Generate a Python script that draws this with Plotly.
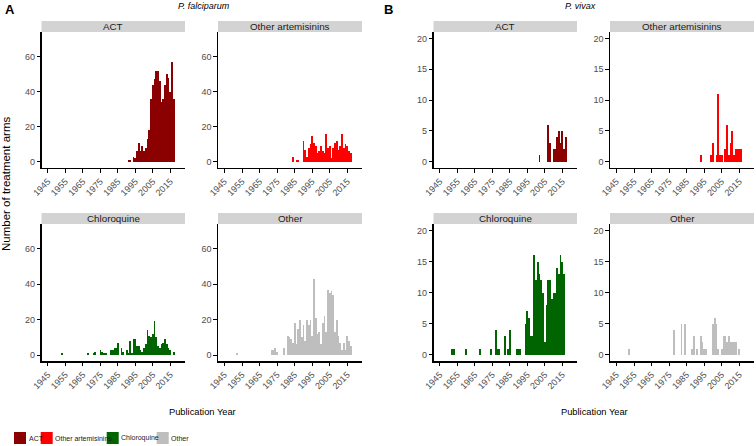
import plotly.graph_objects as go

# ---------------- data (publication year -> number of treatment arms) ----------------
pf_act_years = [1991, 1992, 1994, 1995, 1996, 1997, 1998, 1999, 2000, 2001, 2002, 2003, 2004,
                2005, 2006, 2007, 2008, 2009, 2010, 2011, 2012, 2013, 2014, 2015, 2016, 2017]
pf_act_counts = [1, 1, 3, 2, 6, 11, 6, 9, 6, 8, 13, 18, 36,
                 44, 47, 52, 52, 46, 34, 36, 44, 50, 48, 40, 57, 36]

pf_oart_years = [1984, 1986, 1987, 1990, 1991, 1992, 1993, 1994, 1995, 1996, 1997, 1998, 1999,
                 2000, 2001, 2002, 2003, 2004, 2005, 2006, 2007, 2008, 2009, 2010, 2011, 2012,
                 2013, 2014, 2015, 2016, 2017]
pf_oart_counts = [3, 1, 1, 12, 7, 3, 8, 10, 15, 11, 9, 5, 6,
                  9, 6, 5, 16, 8, 9, 2, 8, 11, 12, 7, 9, 16,
                  8, 10, 9, 6, 5]

pf_cq_years = [1953, 1968, 1971, 1972, 1975, 1976, 1977, 1978, 1981, 1982, 1983, 1984, 1985,
               1987, 1988, 1990, 1991, 1992, 1993, 1994, 1995, 1996, 1997, 1998, 1999, 2000,
               2001, 2002, 2003, 2004, 2005, 2006, 2007, 2008, 2009, 2010, 2011, 2012, 2013,
               2014, 2015, 2017]
pf_cq_counts = [1, 1, 1, 2, 3, 2, 1, 1, 3, 3, 4, 4, 7,
                4, 2, 3, 1, 8, 1, 9, 9, 5, 5, 3, 2, 4,
                6, 14, 11, 10, 12, 19, 10, 5, 4, 6, 7, 9, 6,
                4, 3, 2]

pf_oth_years = [1952, 1972, 1973, 1974, 1975, 1979, 1981, 1982, 1983, 1984, 1985, 1986, 1987,
                1988, 1989, 1990, 1991, 1992, 1993, 1994, 1995, 1996, 1997, 1998, 1999, 2000,
                2001, 2002, 2003, 2004, 2005, 2006, 2007, 2008, 2009, 2010, 2011, 2012, 2013,
                2014, 2015, 2016, 2017]
pf_oth_counts = [1, 3, 3, 4, 2, 4, 11, 10, 9, 7, 18, 6, 15,
                 20, 10, 17, 8, 20, 17, 20, 11, 43, 21, 12, 13, 6,
                 18, 22, 13, 37, 35, 36, 34, 13, 20, 11, 7, 3, 7,
                 3, 11, 8, 5]

pv_act_years = [2002, 2007, 2008, 2010, 2011, 2012, 2013, 2014, 2015, 2016, 2017]
pv_act_counts = [1, 6, 3, 2, 2, 4, 5, 3, 5, 2, 4]

pv_oart_years = [1993, 1999, 2000, 2002, 2003, 2004, 2005, 2007, 2008, 2009, 2010, 2011,
                 2012, 2013, 2014, 2015, 2016]
pv_oart_counts = [1, 1, 3, 1, 11, 1, 1, 2, 6, 1, 3, 5,
                  1, 2, 2, 2, 2]

pv_cq_years = [1952, 1953, 1960, 1968, 1974, 1977, 1978, 1979, 1982, 1984, 1985, 1989, 1990,
               1991, 1994, 1995, 1996, 1997, 1998, 1999, 2000, 2001, 2002, 2003, 2004, 2005,
               2006, 2007, 2008, 2009, 2010, 2011, 2012, 2013, 2014, 2015, 2016]
pv_cq_counts = [1, 1, 1, 1, 1, 4, 1, 1, 3, 1, 4, 1, 1,
                1, 5, 7, 6, 3, 3, 16, 12, 15, 13, 12, 10, 2,
                8, 12, 12, 9, 10, 10, 14, 13, 16, 15, 13]

pv_oth_years = [1952, 1978, 1982, 1984, 1988, 1989, 1991, 1993, 1994, 1995, 1996, 2000, 2001,
                2002, 2003, 2005, 2006, 2007, 2008, 2009, 2010, 2011, 2012, 2013, 2015]
pv_oth_counts = [1, 4, 5, 5, 1, 3, 1, 3, 2, 1, 1, 5, 6,
                 5, 1, 1, 3, 3, 2, 3, 2, 2, 2, 2, 1]

drug_classes = ["ACT", "Other artemisinins", "Chloroquine", "Other"]
class_colors = ["#8B0000", "#FF0000", "#006400", "#BEBEBE"]
x_tick_years = [1945, 1955, 1965, 1975, 1985, 1995, 2005, 2015]
pf_y_ticks = [0, 20, 40, 60]
pv_y_ticks = [0, 5, 10, 15, 20]

# ---------------- layout geometry (pixels) ----------------
W, H = 756, 446


def fx(x):
    return x / W


def fy(y):
    return 1 - y / H


col_px = [(41.5, 185), (218, 362), (433.5, 577), (610, 754)]
row_px = [(32, 168), (224, 361.3)]
strip_h = 11
XR = [1941.3, 2023.4]
PF_YR = [-3.5, 74]
PV_YR = [-1.05, 21.05]

series = [
    (pf_act_years, pf_act_counts, 0, 0, 0),
    (pf_oart_years, pf_oart_counts, 1, 1, 0),
    (pf_cq_years, pf_cq_counts, 2, 0, 1),
    (pf_oth_years, pf_oth_counts, 3, 1, 1),
    (pv_act_years, pv_act_counts, 0, 2, 0),
    (pv_oart_years, pv_oart_counts, 1, 3, 0),
    (pv_cq_years, pv_cq_counts, 2, 2, 1),
    (pv_oth_years, pv_oth_counts, 3, 3, 1),
]

base_font = "Liberation Sans, Arial, sans-serif"
fig = go.Figure()
shapes = []
annotations = []
tick_font = dict(family=base_font, size=9, color="#4D4D4D")

for i, (yrs, cnts, cls, col, row) in enumerate(series, start=1):
    xa = "x" if i == 1 else f"x{i}"
    ya = "y" if i == 1 else f"y{i}"
    fig.add_trace(go.Bar(x=yrs, y=cnts, width=1.0, xaxis=xa, yaxis=ya,
                         marker=dict(color=class_colors[cls], line=dict(width=0)),
                         showlegend=False, hoverinfo="x+y"))
    x0, x1 = col_px[col]
    y0, y1 = row_px[row]
    pv = col >= 2
    fig.layout[f"xaxis{'' if i == 1 else i}"] = dict(
        domain=[fx(x0), fx(x1)], range=XR, anchor=ya, automargin=False,
        showline=True, linecolor="black", linewidth=1.3, mirror=False,
        ticks="outside", ticklen=3.5, tickwidth=1, tickcolor="black",
        tickvals=x_tick_years, ticktext=[str(v) for v in x_tick_years],
        tickangle=-45, tickfont=tick_font, showgrid=False, zeroline=False, fixedrange=True)
    fig.layout[f"yaxis{'' if i == 1 else i}"] = dict(
        domain=[fy(y1), fy(y0)], range=PV_YR if pv else PF_YR, anchor=xa, automargin=False,
        showline=True, linecolor="black", linewidth=1.3,
        ticks="outside", ticklen=3.5, tickwidth=1, tickcolor="black",
        tickvals=pv_y_ticks if pv else pf_y_ticks, tickfont=tick_font,
        showgrid=False, zeroline=False, fixedrange=True)
    # facet strip
    shapes.append(dict(type="rect", xref="paper", yref="paper",
                       x0=fx(x0), x1=fx(x1), y0=fy(y0), y1=fy(y0 - strip_h),
                       fillcolor="#D3D3D3", line=dict(width=0), layer="below"))
    annotations.append(dict(text=drug_classes[cls], xref="paper", yref="paper",
                            x=fx((x0 + x1) / 2), y=fy(y0 - strip_h / 2),
                            xanchor="center", yanchor="middle", showarrow=False,
                            font=dict(family=base_font, size=9.8, color="#1A1A1A")))

# panel letters and titles
annotations += [
    dict(text="<b>A</b>", x=fx(3), y=fy(10), xanchor="left", yanchor="middle",
         font=dict(family=base_font, size=13, color="black")),
    dict(text="<b>B</b>", x=fx(382), y=fy(10), xanchor="left", yanchor="middle",
         font=dict(family=base_font, size=13, color="black")),
    dict(text="<i>P. falciparum</i>", x=fx(204), y=fy(6.5), xanchor="center", yanchor="middle",
         font=dict(family=base_font, size=9, color="black")),
    dict(text="<i>P. vivax</i>", x=fx(580), y=fy(6.5), xanchor="center", yanchor="middle",
         font=dict(family=base_font, size=9, color="black")),
    dict(text="Publication Year", x=fx(202), y=fy(411.5), xanchor="center", yanchor="middle",
         font=dict(family=base_font, size=9.3, color="black")),
    dict(text="Publication Year", x=fx(594), y=fy(411.5), xanchor="center", yanchor="middle",
         font=dict(family=base_font, size=9.3, color="black")),
    dict(text="Number of treatment arms", x=fx(6), y=fy(184), xanchor="center", yanchor="middle",
         textangle=-90, font=dict(family=base_font, size=11.5, color="black")),
]
for a in annotations:
    a.setdefault("xref", "paper")
    a.setdefault("yref", "paper")
    a.setdefault("showarrow", False)

# legend (bottom-left)
leg_x = [14, 40.7, 106.7, 156.7]
for cls, lx in enumerate(leg_x):
    shapes.append(dict(type="rect", xref="paper", yref="paper",
                       x0=fx(lx), x1=fx(lx + 12), y0=fy(444), y1=fy(432),
                       fillcolor=class_colors[cls], line=dict(width=0)))
    annotations.append(dict(text=drug_classes[cls], xref="paper", yref="paper",
                            x=fx(lx + 12.5), y=fy(438), xanchor="left", yanchor="middle",
                            showarrow=False,
                            font=dict(family=base_font, size=7, color="#1A1A1A")))

fig.update_layout(template="none", width=W, height=H, margin=dict(l=0, r=0, t=0, b=0, pad=0),
                  paper_bgcolor="white", plot_bgcolor="white",
                  shapes=shapes, annotations=annotations, showlegend=False,
                  bargap=0)
fig.write_html("out.html", config={"displayModeBar": False, "staticPlot": True},
               post_script="document.body.style.margin='0px';")
